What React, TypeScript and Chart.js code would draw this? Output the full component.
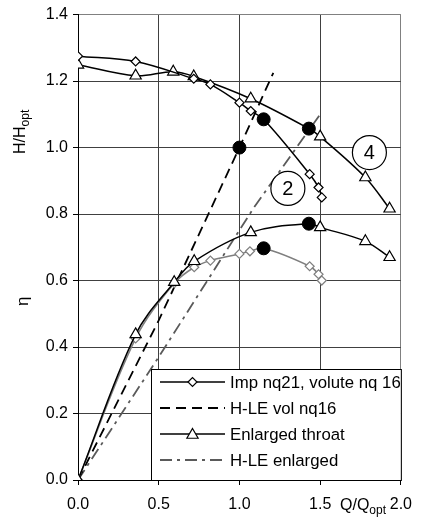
import { useEffect, useRef } from "react";
import { Chart, registerables } from "chart.js";

Chart.register(...registerables);

const FONT = '"Liberation Sans", Arial, Helvetica, sans-serif';

// Impeller nq21, volute nq16 — head curve (Q/Qopt, H/Hopt)
const impQ = [0, 0.357, 0.717, 0.82, 1.0, 1.07, 1.15, 1.435, 1.49, 1.51];
const impHead = [1.275, 1.259, 1.207, 1.19, 1.135, 1.11, 1.085, 0.92, 0.88, 0.85];
// Impeller nq21, volute nq16 — efficiency (grey)
const impEffQ = [0, 0.357, 0.596, 0.72, 0.82, 1.0, 1.065, 1.15, 1.435, 1.49, 1.51];
const impEff = [0, 0.426, 0.592, 0.64, 0.66, 0.68, 0.688, 0.697, 0.643, 0.619, 0.6];
// Enlarged throat — head
const enlQ = [0, 0.357, 0.59, 0.717, 1.07, 1.43, 1.5, 1.78, 1.93];
const enlHead = [1.249, 1.216, 1.228, 1.214, 1.147, 1.057, 1.033, 0.91, 0.816];
// Enlarged throat — efficiency
const enlEffQ = [0, 0.357, 0.596, 0.72, 1.07, 1.43, 1.5, 1.78, 1.93];
const enlEff = [0, 0.438, 0.595, 0.658, 0.745, 0.771, 0.76, 0.718, 0.67];
// H-LE lines
const hleVolQ = [0, 0.5, 1.0, 1.21];
const hleVolH = [0, 0.48, 1.0, 1.225];
const hleEnlQ = [0, 0.5, 1.09, 1.5];
const hleEnlH = [0, 0.37, 0.82, 1.1];
// Best efficiency points (black dots)
const bepQ = [1.0, 1.15, 1.43, 1.15, 1.43];
const bepVal = [1.0, 1.085, 1.057, 0.697, 0.771];
// Circled labels
const circleText = ["2", "4"];
const circleQ = [1.3, 1.805];
const circleH = [0.877, 0.985];

const legendLabels = ["Imp nq21, volute nq 16", "H-LE vol nq16", "Enlarged throat", "H-LE enlarged"];

const GREY = "#7f7f7f";
const DASHDOT = "#5a5a5a";

const pts = (xs: number[], ys: number[]) => xs.map((v, i) => ({ x: v, y: ys[i] }));
const isBep = (p: any) => bepQ.some((q, i) => q === p.x && bepVal[i] === p.y);
const markerR = (r: number) => (ctx: any) => (ctx.raw && isBep(ctx.raw) ? 0 : r);

function drawDiamond(ctx: CanvasRenderingContext2D, x: number, y: number, r: number, stroke: string) {
  ctx.beginPath();
  ctx.moveTo(x - r, y);
  ctx.lineTo(x, y - r);
  ctx.lineTo(x + r, y);
  ctx.lineTo(x, y + r);
  ctx.closePath();
  ctx.fillStyle = "#fff";
  ctx.fill();
  ctx.strokeStyle = stroke;
  ctx.lineWidth = 1.2;
  ctx.setLineDash([]);
  ctx.stroke();
}

function drawTriangle(ctx: CanvasRenderingContext2D, x: number, y: number, r: number) {
  const s = r * Math.sqrt(3) / 2;
  ctx.beginPath();
  ctx.moveTo(x, y - r);
  ctx.lineTo(x + s, y + r / 2);
  ctx.lineTo(x - s, y + r / 2);
  ctx.closePath();
  ctx.fillStyle = "#fff";
  ctx.fill();
  ctx.strokeStyle = "#000";
  ctx.lineWidth = 1.2;
  ctx.setLineDash([]);
  ctx.stroke();
}

const overlay = {
  id: "overlay",
  afterDatasetsDraw(chart: any) {
    const { ctx, chartArea: a, scales } = chart;
    const xs = scales.x;
    const ys = scales.y;
    ctx.save();

    // circled labels
    circleText.forEach((t, i) => {
      const cx = xs.getPixelForValue(circleQ[i]);
      const cy = ys.getPixelForValue(circleH[i]);
      ctx.beginPath();
      ctx.arc(cx, cy, 17, 0, Math.PI * 2);
      ctx.fillStyle = "#fff";
      ctx.fill();
      ctx.lineWidth = 1.2;
      ctx.strokeStyle = "#000";
      ctx.setLineDash([]);
      ctx.stroke();
      ctx.fillStyle = "#000";
      ctx.font = `20px ${FONT}`;
      ctx.textAlign = "center";
      ctx.textBaseline = "middle";
      ctx.fillText(t, cx, cy + 1);
    });

    // legend box
    const L = a.left + 73;
    const T = a.bottom - 111;
    const R = a.right;
    const B = a.bottom;
    ctx.fillStyle = "#fff";
    ctx.fillRect(L, T, R - L, B - T);
    ctx.strokeStyle = "#000";
    ctx.lineWidth = 1;
    ctx.setLineDash([]);
    ctx.strokeRect(Math.round(L) + 0.5, Math.round(T) + 0.5, R - Math.round(L), B - Math.round(T));

    const x1 = L + 9;
    const x2 = L + 74;
    const xm = (x1 + x2) / 2;
    const rows = [T + 13, T + 39, T + 65, T + 91];
    const styles = [
      { color: "#000", dash: [] as number[], width: 1.5 },
      { color: "#000", dash: [10, 6], width: 1.8 },
      { color: "#000", dash: [] as number[], width: 1.5 },
      { color: DASHDOT, dash: [12, 5, 3, 5], width: 1.8 },
    ];
    rows.forEach((ry, i) => {
      const s = styles[i];
      ctx.beginPath();
      ctx.moveTo(x1, ry);
      ctx.lineTo(x2, ry);
      ctx.strokeStyle = s.color;
      ctx.lineWidth = s.width;
      ctx.setLineDash(s.dash);
      ctx.stroke();
      ctx.setLineDash([]);
      if (i === 0) drawDiamond(ctx, xm, ry, 4.5, "#000");
      if (i === 2) drawTriangle(ctx, xm, ry + 1, 6.5);
      ctx.fillStyle = "#000";
      ctx.font = `16.8px ${FONT}`;
      ctx.textAlign = "left";
      ctx.textBaseline = "middle";
      ctx.fillText(legendLabels[i], x2 + 5, ry + 1);
    });
    ctx.restore();
  },
  afterDraw(chart: any) {
    const { ctx } = chart;
    ctx.save();
    ctx.fillStyle = "#000";
    ctx.textBaseline = "alphabetic";
    ctx.textAlign = "left";

    // H/Hopt rotated
    ctx.save();
    ctx.translate(25, 154);
    ctx.rotate(-Math.PI / 2);
    ctx.font = `16px ${FONT}`;
    ctx.fillText("H/H", 0, 0);
    const w1 = ctx.measureText("H/H").width;
    ctx.font = `12px ${FONT}`;
    ctx.fillText("opt", w1, 4);
    ctx.restore();

    // eta rotated
    ctx.save();
    ctx.translate(28, 306);
    ctx.rotate(-Math.PI / 2);
    ctx.font = `17px ${FONT}`;
    ctx.fillText("η", 0, 0);
    ctx.restore();

    // Q/Qopt
    ctx.font = `16px ${FONT}`;
    ctx.fillText("Q/Q", 340, 510);
    const w2 = ctx.measureText("Q/Q").width;
    ctx.font = `12px ${FONT}`;
    ctx.fillText("opt", 340 + w2, 514);
    ctx.restore();
  },
};

export default function App() {
  const ref = useRef<HTMLCanvasElement>(null);
  useEffect(() => {
    if (!ref.current) return;
    const tickFont = { family: FONT, size: 16 };
    const chart = new Chart(ref.current, {
      type: "scatter",
      data: {
        datasets: [
          {
            label: "BEP",
            data: pts(bepQ, bepVal),
            showLine: false,
            pointStyle: "circle",
            pointRadius: 6.5,
            pointBackgroundColor: "#000",
            pointBorderColor: "#000",
          },
          {
            label: legendLabels[0],
            data: pts(impQ, impHead),
            showLine: true,
            borderColor: "#000",
            borderWidth: 1.5,
            tension: 0.35,
            pointStyle: "rectRot",
            pointRadius: markerR(4.5),
            pointBackgroundColor: "#fff",
            pointBorderColor: "#000",
            pointBorderWidth: 1.2,
          },
          {
            label: legendLabels[2],
            data: pts(enlQ, enlHead),
            showLine: true,
            borderColor: "#000",
            borderWidth: 1.5,
            tension: 0.35,
            pointStyle: "triangle",
            pointRadius: markerR(6.5),
            pointBackgroundColor: "#fff",
            pointBorderColor: "#000",
            pointBorderWidth: 1.2,
          },
          {
            label: "eta enlarged",
            data: pts(enlEffQ, enlEff),
            showLine: true,
            borderColor: "#000",
            borderWidth: 1.5,
            tension: 0.35,
            pointStyle: "triangle",
            pointRadius: markerR(6.5),
            pointBackgroundColor: "#fff",
            pointBorderColor: "#000",
            pointBorderWidth: 1.2,
          },
          {
            label: "eta imp",
            data: pts(impEffQ, impEff),
            showLine: true,
            borderColor: GREY,
            borderWidth: 1.5,
            tension: 0.35,
            pointStyle: "rectRot",
            pointRadius: markerR(4.5),
            pointBackgroundColor: "#fff",
            pointBorderColor: GREY,
            pointBorderWidth: 1.2,
          },
          {
            label: legendLabels[1],
            data: pts(hleVolQ, hleVolH),
            showLine: true,
            borderColor: "#000",
            borderWidth: 1.8,
            borderDash: [10, 6],
            tension: 0,
            pointRadius: 0,
          },
          {
            label: legendLabels[3],
            data: pts(hleEnlQ, hleEnlH),
            showLine: true,
            borderColor: DASHDOT,
            borderWidth: 1.8,
            borderDash: [12, 5, 3, 5],
            tension: 0,
            pointRadius: 0,
          },
        ],
      },
      options: {
        animation: false,
        responsive: true,
        maintainAspectRatio: false,
        events: [],
        layout: { padding: { top: 14, right: 15, left: 0, bottom: 0 } },
        plugins: { legend: { display: false }, tooltip: { enabled: false } },
        scales: {
          x: {
            type: "linear",
            min: 0,
            max: 2,
            afterFit: (s: any) => {
              s.height = 38;
            },
            ticks: {
              stepSize: 0.5,
              autoSkip: false,
              maxRotation: 0,
              padding: 10,
              color: "#000",
              font: tickFont,
              callback: (v: any) => Number(v).toFixed(1),
            },
            grid: {
              color: (c: any) => (c.tick && Math.abs(c.tick.value - 2) < 1e-6 ? "#808080" : "#404040"),
              tickColor: "#000",
              tickLength: 5,
              lineWidth: 1,
            },
            border: { color: "#000", width: 1 },
          },
          y: {
            type: "linear",
            min: 0,
            max: 1.4,
            afterFit: (s: any) => {
              s.width = 78;
            },
            ticks: {
              stepSize: 0.2,
              autoSkip: false,
              padding: 5,
              color: "#000",
              font: tickFont,
              callback: (v: any) => Number(v).toFixed(1),
            },
            grid: {
              color: (c: any) => (c.tick && Math.abs(c.tick.value - 1.4) < 1e-6 ? "#808080" : "#404040"),
              tickColor: "#000",
              tickLength: 5,
              lineWidth: 1,
            },
            border: { color: "#000", width: 1 },
          },
        },
      },
      plugins: [overlay],
    } as any);
    return () => chart.destroy();
  }, []);

  return (
    <div style={{ position: "absolute", left: 0, top: 0, width: 422, height: 518, background: "#fff" }}>
      <canvas ref={ref} />
    </div>
  );
}
